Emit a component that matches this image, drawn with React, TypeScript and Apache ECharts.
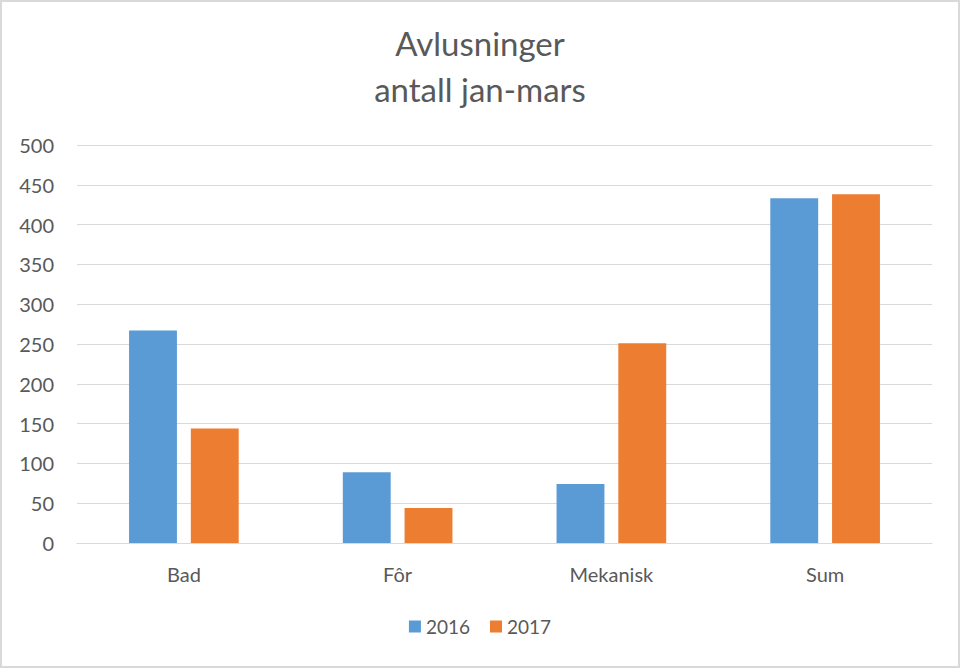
import React, { useEffect, useRef } from "react";
import * as echarts from "echarts";

const categories = ["Bad", "Fôr", "Mekanisk", "Sum"];
const series2016 = [267, 89, 74, 433];
const series2017 = [144, 44, 251, 438];
const seriesNames = ["2016", "2017"];
const titleLines = ["Avlusninger", "antall jan-mars"];

export default function App() {
  const ref = useRef<HTMLDivElement>(null);
  useEffect(() => {
    if (!ref.current) return;
    const chart = echarts.init(ref.current, null, { renderer: "svg" });
    const font = "Lato, 'Open Sans', sans-serif";
    chart.setOption({
      animation: false,
      backgroundColor: "#ffffff",
      title: {
        text: titleLines.join("\n"),
        left: "center",
        top: 13,
        textStyle: {
          fontFamily: font,
          fontSize: 33,
          fontWeight: "normal",
          color: "#595959",
          lineHeight: 46,
        },
      },
      legend: {
        top: 610,
        left: "center",
        itemWidth: 12,
        itemHeight: 12,
        itemGap: 20,
        icon: "rect",
        textStyle: { fontFamily: font, fontSize: 19, color: "#595959" },
        data: seriesNames,
      },
      grid: { left: 75, right: 26, top: 143, bottom: 123, containLabel: false },
      xAxis: {
        type: "category",
        data: categories,
        axisLine: { lineStyle: { color: "#d9d9d9", width: 1 } },
        axisTick: { show: false },
        axisLabel: { fontFamily: font, fontSize: 20, color: "#595959", margin: 21 },
      },
      yAxis: {
        type: "value",
        min: 0,
        max: 500,
        interval: 50,
        axisLine: { show: false },
        axisTick: { show: false },
        splitLine: { lineStyle: { color: "#d9d9d9", width: 1 } },
        axisLabel: { fontFamily: font, fontSize: 20, color: "#595959", margin: 23 },
      },
      series: [
        {
          name: seriesNames[0],
          type: "bar",
          data: series2016,
          barWidth: "22.4%",
          barGap: "29%",
          itemStyle: { color: "#5b9bd5" },
        },
        {
          name: seriesNames[1],
          type: "bar",
          data: series2017,
          barWidth: "22.4%",
          barGap: "29%",
          itemStyle: { color: "#ed7d31" },
        },
      ],
    });
    return () => chart.dispose();
  }, []);
  return (
    <div
      style={{
        position: "fixed",
        left: 0,
        top: 0,
        width: 960,
        height: 668,
        boxSizing: "border-box",
        border: "2px solid #d9d9d9",
        background: "#fff",
      }}
    >
      <div ref={ref} style={{ width: 956, height: 664 }} />
    </div>
  );
}
